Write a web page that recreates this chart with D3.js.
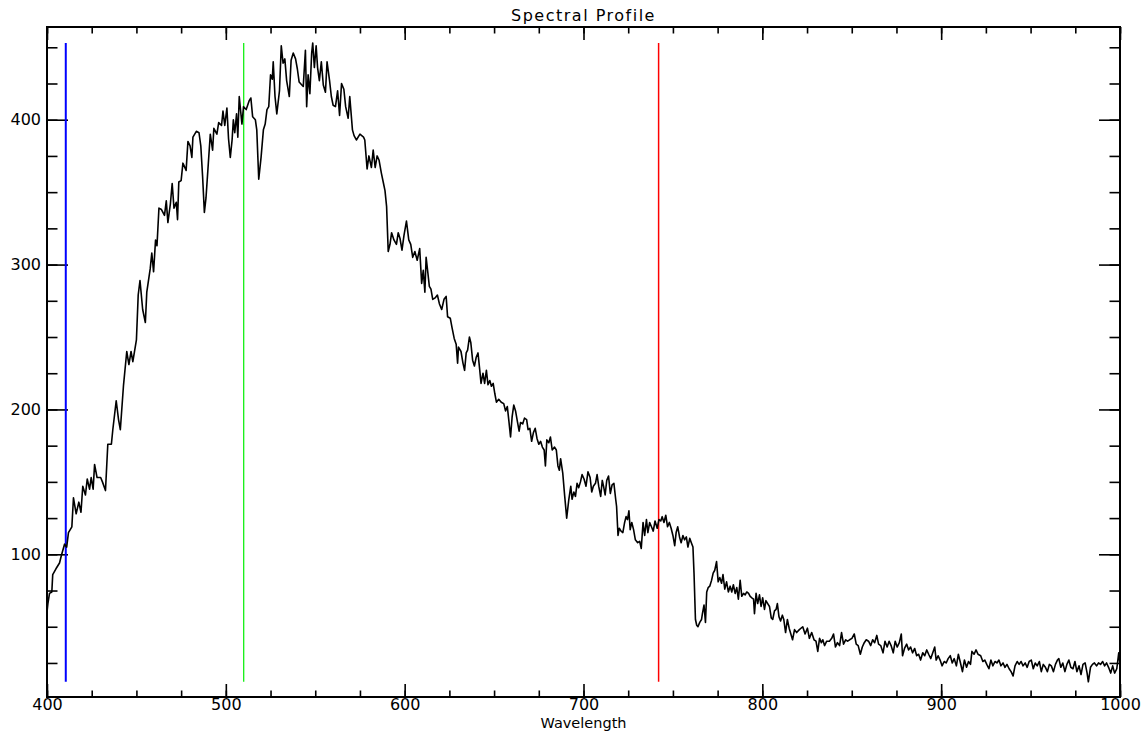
<!DOCTYPE html>
<html>
<head>
<meta charset="utf-8">
<script src="https://cdn.jsdelivr.net/npm/d3@7"></script>
<style>
  body { margin: 0; background: #fff; }
  .axis text { font-family: "DejaVu Sans", sans-serif; font-size: 16px; fill: #000; }
  .axis line { stroke: #000; stroke-width: 1.6; }
  .axis path { display: none; }
  .g-title { font-family: "DejaVu Sans", sans-serif; font-size: 16px; fill: #000; }
  .g-xlabel { font-family: "DejaVu Sans", sans-serif; font-size: 14.5px; fill: #000; }
</style>
</head>
<body>
<div class="g-chart"></div>
<script>
//Spectrum wavelengths (nm)
var wavelength = [
  400, 400.5, 401.4, 402.7, 403.2, 405, 407, 408, 409.8, 411,
  412, 413.9, 414.8, 416.3, 417.8, 419, 420, 421.5, 422.5, 423.8,
  424.7, 425.8, 426.6, 428, 430, 431, 432.7, 434, 436, 436.8,
  438.7, 440, 441, 442.8, 444.6, 445.8, 447, 448, 450, 451,
  452, 453.5, 455, 455.8, 457.7, 458.6, 459.6, 460.7, 461.5, 462.6,
  464, 465.7, 466.7, 467.6, 469, 470, 471, 472.3, 473, 473.7,
  475, 476, 477.8, 478.8, 480, 481, 481.6, 483.5, 485, 486,
  487, 488, 488.9, 490, 491.3, 492.6, 493.3, 495, 496, 497.6,
  498.4, 499.4, 500.6, 501.5,
  502.5, 503.5, 504.2, 505, 506, 506.7, 507.5, 509, 509.9, 511.4,
  513, 514, 515, 516.5, 517.3, 518.4, 519.7, 521, 522, 523,
  524, 525, 526, 526.5, 527.5, 528.5, 530, 531, 532, 533,
  534, 535.5, 536.5, 537.7, 539, 540, 541, 542.5, 543.3, 544.5,
  545.2, 546, 547, 548, 548.6, 549.5, 550.5, 551.3, 552.3, 553.4,
  554.5, 555.7, 556.6, 558, 559, 560, 561.3, 562.5, 563.6, 564.7,
  566, 567, 568.4, 569.3, 570.8, 571.7, 573, 575, 577, 577.7,
  579, 580, 581.4, 582.4, 583.5, 584.6, 585.7, 587, 588, 589,
  589.9, 590.8, 591.8, 592.7, 594, 595.4, 596.4, 597.4, 598.5, 599.6,
  601, 602.3, 603.4, 604.5, 605.7, 607,
  608.4, 609.5, 610.4, 611.3, 612, 613, 613.8, 614.7, 615.7, 617,
  618.3, 619.4, 620.7, 622, 623.2, 624, 625.5, 626.4, 627.7, 628.8,
  629.6, 630.1, 631.5, 632.6, 633.5, 634.4, 635.2, 636.2, 637, 638,
  639, 640, 641, 642, 642.7, 643.8, 644.7, 645.7, 646.6, 647.6,
  648.5, 649.5, 650.4, 651.3, 652.6, 654, 655.4, 656.4, 657.4, 658.2,
  659.2, 660.1, 661, 662, 663, 664, 664.8, 666, 667, 668.2,
  669, 670, 671, 672, 673, 674, 675, 676, 677, 678,
  678.7, 679.5, 680.6, 681.5, 682.5, 683.8, 684.8, 685.7, 686.5, 687.2,
  688.4, 689.5, 690.6, 691.8, 692.9, 693.6, 694.6, 695.5, 696.4, 697.3,
  698.3, 699.2, 700.3, 701.4, 702.5, 703.7, 704.6, 705.5, 706.7, 707.6,
  708.5,
  709.6, 710.5, 711.2, 712.1, 713, 714, 715, 716, 717, 718,
  718.5, 719.3, 720, 721, 722, 723, 723.8, 724.6, 725.4, 726.1,
  727, 728, 729, 730.3, 731.4, 732.3, 733.3, 734.2, 735.2, 736,
  737, 738, 739, 740, 741.2, 742.2, 743.2, 744, 745, 746,
  747, 748, 749, 750, 751, 751.8, 752.7, 753.7, 754.6, 755.6,
  756.5, 757.5, 758.4, 759.4, 760.3, 761.2, 761.8, 762.6, 763.3, 764,
  765, 766, 766.5, 767.4, 768.2, 768.9, 769.7, 770.6, 771.6, 772.5,
  773.4, 774.4, 775.3, 776.2, 777.2, 778, 779, 780, 781, 782,
  782.9, 783.8, 784.8, 785.7, 786.6, 787.6, 788.5, 789.5, 790.4, 791.3,
  792.3, 793.2, 794.1, 795.1, 795.6, 796.5, 797.4, 798.4, 799.3, 800.2,
  801.2, 802, 803, 804, 805, 805.8, 806.8, 807.7, 808.4, 809.3,
  810.2, 811.2, 812, 813, 814, 815,
  816.9, 818, 819.2, 820.7, 822.6, 823.9, 825.2, 826.3, 827.6, 828.9,
  830, 831, 832, 833, 833.8, 834.8, 836, 837.5, 838.8, 839.8,
  840.9, 842, 843.2, 844.3, 845.4, 846.6, 847.7, 848.8, 850.1, 851.4,
  852.5, 853.6, 854.8, 855.9, 857, 858.1, 859.4, 860.6, 861.7, 862.8,
  864, 865, 866.2, 867.5, 868.6, 869.8, 870.9, 872, 873.2, 874.3,
  875.4, 876.6, 877.7, 878.4, 879.5, 880.7, 881.8, 882.9, 884, 885.2,
  886.3, 887.4, 888.5, 889.7, 890.8, 891.9, 893, 894.2, 895.3, 896.4,
  897.2, 898.3, 899.4, 900.5, 901.7, 902.8, 903.9,
  905.1, 906.2, 907.3, 908.5, 909.6, 910.8, 911.9, 913, 914.2, 915.3,
  916.4, 917.2, 918.4, 919.5, 920.6, 922.1, 923.3, 924.4, 925.5, 926.7,
  927.8, 928.9, 930.1, 931.2, 932.3, 933.4, 934.6, 935.7, 936.8, 938,
  939.1, 940.2, 941.3, 942.5, 943.6, 944.7, 945.8, 947, 948.1, 949.2,
  950.4, 951.5, 952.6, 953.7, 954.9, 956, 957.1, 958.3, 959.4, 960.5,
  961.6, 962.8, 963.9, 965, 965.8, 966.9, 968, 969.2, 970.3, 971.4,
  972.5, 973.7, 974.8, 975.9, 977.1, 978.2, 979.3, 980.5, 981.6, 982.3,
  983.5, 984.6, 985.7, 986.9, 988, 989.1, 990.3, 991.4, 992.5, 993.6,
  994.8, 995.9, 997, 998.2, 999.3, 1000
];

//Spectrum intensities
var intensity = [
  60, 66, 73, 74, 86, 90, 94, 99, 107, 105,
  115, 119, 139, 128, 136, 129, 147, 141, 152, 145,
  153, 145, 162, 153, 153, 150, 144, 176, 176, 186,
  206, 193, 186, 217, 240, 231, 240, 233, 248, 279,
  289, 269, 260, 281, 297, 308, 295, 317, 313, 339,
  338, 334, 344, 329, 342, 356, 339, 343, 331, 357,
  358, 370, 365, 385, 382, 374, 388, 392, 391, 382,
  361, 336, 346, 366, 390, 379, 394, 390, 398, 396,
  406, 396, 408, 387,
  374, 386, 400, 391, 404, 388, 416, 397, 409, 407,
  413, 415, 402, 400, 393, 359, 374, 393, 397, 407,
  409, 431, 428, 440, 416, 404, 420, 451, 439, 442,
  427, 416, 441, 446, 442, 435, 426, 424, 423, 448,
  409, 431, 418, 446, 453, 436, 451, 436, 427, 440,
  424, 419, 440, 427, 416, 410, 409, 420, 403, 425,
  421, 409, 401, 416, 393, 389, 386, 390, 388, 386,
  366, 375, 367, 379, 367, 375, 372, 363, 357, 351,
  340, 309, 314, 322, 317, 314, 322, 318, 310, 320,
  330, 317, 314, 305, 309, 303,
  311, 287, 296, 281, 305, 294, 285, 283, 276, 277,
  279, 273, 269, 276, 278, 264, 263, 257, 249, 245,
  232, 243, 240, 232, 227, 239, 241, 250, 246, 234,
  230, 236, 239, 227, 218, 225, 218, 227, 217, 220,
  216, 218, 211, 205, 207, 205, 204, 199, 202, 193,
  181, 195, 203, 199, 192, 185, 191, 190, 194, 193,
  186, 187, 178, 184, 187, 180, 176, 178, 174, 172,
  161, 179, 177, 181, 172, 174, 172, 161, 158, 166,
  156, 140, 125, 138, 147, 138, 143, 140, 149, 146,
  150, 155, 152, 147, 157, 153, 143, 147, 149, 155,
  147,
  140, 151, 147, 141, 151, 154, 142, 148, 149, 138,
  133, 113, 118, 116, 115, 122, 126, 124, 130, 117,
  122, 117, 110, 108, 109, 104, 122, 113, 124, 115,
  122, 119, 116, 123, 118, 124, 123, 126, 122, 127,
  119, 122, 118, 113, 106, 115, 119, 112, 108, 113,
  110, 112, 105, 111, 108, 105, 87, 55, 51, 50,
  53, 55, 59, 65, 53, 74, 77, 78, 82, 87,
  89, 95, 81, 84, 80, 86, 76, 81, 74, 78,
  74, 79, 73, 77, 69, 82, 71, 73, 72, 74,
  73, 71, 70, 69, 59, 73, 66, 72, 64, 70,
  62, 68, 66, 64, 56, 55, 61, 62, 66, 57,
  54, 58, 55, 46, 55, 49,
  41, 48, 46, 48, 50, 45, 49, 42, 46, 41,
  40, 33, 42, 39, 41, 37, 40, 40, 42, 45,
  36, 39, 37, 46, 38, 41, 40, 41, 42, 45,
  38, 37, 31, 36, 39, 41, 40, 37, 41, 39,
  44, 38, 37, 32, 40, 36, 40, 37, 32, 40,
  36, 39, 45, 30, 35, 38, 34, 36, 32, 35,
  30, 31, 27, 32, 30, 34, 31, 28, 32, 36,
  27, 30, 27, 23, 26, 25, 28,
  30, 25, 28, 23, 31, 25, 19, 27, 22, 26,
  24, 33, 31, 34, 31, 30, 26, 27, 24, 21,
  27, 23, 26, 25, 27, 23, 25, 22, 24, 21,
  19, 16, 23, 26, 24, 26, 23, 25, 22, 26,
  27, 21, 25, 23, 26, 19, 24, 22, 19, 24,
  23, 19, 24, 27, 28, 22, 25, 19, 24, 27,
  22, 21, 26, 19, 23, 17, 24, 25, 18, 12,
  22, 24, 25, 23, 25, 24, 26, 23, 25, 22,
  18, 23, 18, 21, 32, 24
];

//Band marker wavelengths and colours
var markerWavelengths = [410.5, 510, 742];
var markerColors = ["#0000ff", "#00ee00", "#ff0000"];

//Axis ranges and tick labels
var xRange = [400, 1000];
var yRange = [1.5, 464];
var xTickLabels = [400, 500, 600, 700, 800, 900, 1000];
var yTickLabels = [100, 200, 300, 400];

//Titles
var headline = "Spectral Profile";
var xTitle = "Wavelength";

//Margin conventions
var margin = {top: 27, right: 28, bottom: 36, left: 47};
var width = 1148 - margin.left - margin.right,
    height = 733 - margin.top - margin.bottom;

var svg = d3.select(".g-chart").append("svg")
  .attr("width", width + margin.left + margin.right)
  .attr("height", height + margin.top + margin.bottom)
  .append("g")
  .attr("transform", "translate(" + margin.left + "," + margin.top + ")");

//Scales
var xScale = d3.scaleLinear().domain(xRange).range([0, width]);
var yScale = d3.scaleLinear().domain(yRange).range([height, 0]);

var xMinor = d3.range(xRange[0], xRange[1] + 1, 25);
var yMinor = d3.range(25, yRange[1], 25);

//Tick lengths (IDL style, inward)
var xMajorLen = 13, xMinorLen = 6.5, yMajorLen = 21, yMinorLen = 10.5;

//Bottom axis
svg.append("g").attr("class", "axis")
  .attr("transform", "translate(0," + height + ")")
  .call(d3.axisBottom(xScale).tickValues(xMinor).tickSize(-xMinorLen).tickFormat(""));
svg.append("g").attr("class", "axis")
  .attr("transform", "translate(0," + height + ")")
  .call(d3.axisBottom(xScale).tickValues(xTickLabels).tickSize(-xMajorLen).tickPadding(2).tickFormat(d3.format("d")));

//Top axis
svg.append("g").attr("class", "axis")
  .call(d3.axisTop(xScale).tickValues(xMinor).tickSize(-xMinorLen).tickFormat(""));
svg.append("g").attr("class", "axis")
  .call(d3.axisTop(xScale).tickValues(xTickLabels).tickSize(-xMajorLen).tickFormat(""));

//Left axis
svg.append("g").attr("class", "axis")
  .call(d3.axisLeft(yScale).tickValues(yMinor).tickSize(-yMinorLen).tickFormat(""));
svg.append("g").attr("class", "axis")
  .call(d3.axisLeft(yScale).tickValues(yTickLabels).tickSize(-yMajorLen).tickPadding(6).tickFormat(d3.format("d")));

//Right axis
svg.append("g").attr("class", "axis")
  .attr("transform", "translate(" + width + ",0)")
  .call(d3.axisRight(yScale).tickValues(yMinor).tickSize(-yMinorLen).tickFormat(""));
svg.append("g").attr("class", "axis")
  .attr("transform", "translate(" + width + ",0)")
  .call(d3.axisRight(yScale).tickValues(yTickLabels).tickSize(-yMajorLen).tickFormat(""));

//Plot frame
svg.append("rect")
  .attr("width", width)
  .attr("height", height)
  .attr("fill", "none")
  .attr("stroke", "#000")
  .attr("stroke-width", 2);

//Spectrum data
var data = wavelength.map(function(w, i) { return {w: w, v: intensity[i]}; });
var vExtent = d3.extent(intensity);

//Marker lines span the data range
svg.selectAll(".marker")
  .data(markerWavelengths)
  .enter()
  .append("line")
  .attr("class", "marker")
  .attr("x1", function(d) { return xScale(d); })
  .attr("x2", function(d) { return xScale(d); })
  .attr("y1", yScale(vExtent[0]))
  .attr("y2", yScale(vExtent[1]))
  .attr("stroke", function(d, i) { return markerColors[i]; })
  .attr("stroke-width", function(d, i) { return [2, 1.2, 1.5][i]; });

//Spectrum line
var line = d3.line()
  .x(function(d) { return xScale(d.w); })
  .y(function(d) { return yScale(d.v); });

svg.append("path")
  .datum(data)
  .attr("d", line)
  .attr("fill", "none")
  .attr("stroke", "#000")
  .attr("stroke-width", 1.6)
  .attr("stroke-linejoin", "round");

//Title
svg.append("text")
  .attr("class", "g-title")
  .attr("x", width / 2)
  .attr("y", -6)
  .attr("text-anchor", "middle")
  .style("letter-spacing", "1.5px")
  .text(headline);

//X axis title
svg.append("text")
  .attr("class", "g-xlabel")
  .attr("x", width / 2)
  .attr("y", height + 31)
  .attr("text-anchor", "middle")
  .text(xTitle);
</script>
</body>
</html>
